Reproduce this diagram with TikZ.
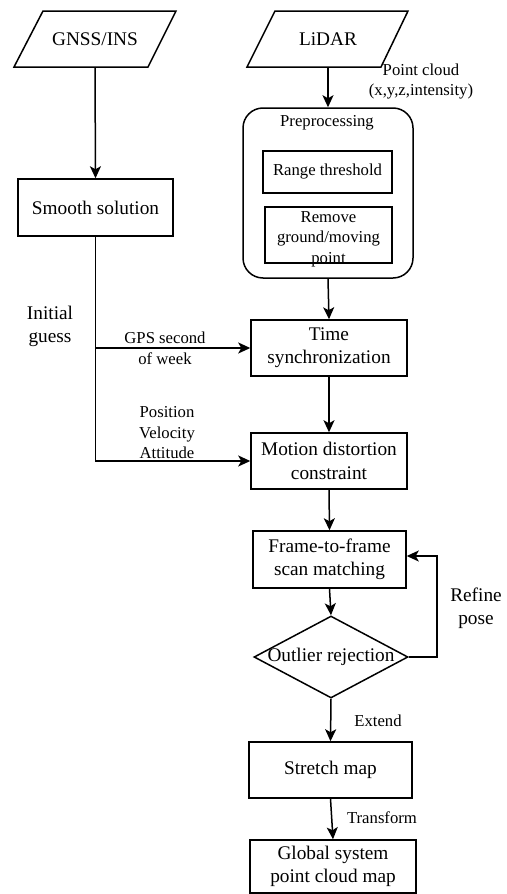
\documentclass[tikz,border=0pt]{standalone}
\usepackage{fontspec}
\setmainfont{Liberation Serif}
\newfontfamily\tnr{Liberation Serif}
\usetikzlibrary{arrows.meta,shapes.geometric}
\tikzset{
  x=1pt,y=-1pt,
  every path/.style={line width=1.5pt},
  big/.style={font=\tnr\fontsize{19.3}{23.3}\selectfont,align=center,inner sep=0pt},
  small/.style={font=\tnr\fontsize{16.7}{20.5}\selectfont,align=center,inner sep=0pt},
  boxnode/.style={draw,big,minimum width=#1,minimum height=56,inner sep=0pt},
  arr/.style={-{Stealth[length=12pt,width=11pt,inset=3pt]}},
}
\begin{document}
\begin{tikzpicture}
\useasboundingbox (0,0) rectangle (506,894);
% input parallelograms
\draw (43,11) -- (176,11) -- (148,67) -- (14,67) -- cycle;
\node[big,minimum height=56] (gnss) at (95,39) {GNSS/INS};
\draw (275,11) -- (408,11) -- (381,67) -- (247,67) -- cycle;
\node[big,minimum height=56] (lidar) at (328,39) {LiDAR};
% left column
\node[boxnode=155,minimum height=57] (smooth) at (95.5,207.5) {Smooth solution};
% preprocessing group
\node[draw,rounded corners=20pt,minimum width=170,minimum height=170,inner sep=0pt] (prep) at (328,193) {};
\node[small] (preptitle) at (327,123) {Preprocessing};
\node[draw,small,minimum width=129,minimum height=42] (range) at (327.5,172) {Range threshold};
\node[draw,minimum width=127,minimum height=56,inner sep=0pt] (removebox) at (328.5,235) {};
\node[small] (remove) at (328.5,239) {Remove\\ground/moving\\point};
% main column
\node[boxnode=156] (time) at (329,348) {Time\\synchronization};
\node[boxnode=156] (motion) at (329,461) {Motion distortion\\constraint};
\node[boxnode=153,minimum height=57] (frame) at (329.5,559.5) {Frame-to-frame\\scan matching};
\node[draw,diamond,big,minimum width=154,minimum height=82,inner sep=0pt,aspect=1.9] (outlier) at (331,657) {};
\node[big] (outliertext) at (331,657) {Outlier rejection};
\node[boxnode=163] (stretch) at (330.5,770) {Stretch map};
\node[boxnode=166,minimum height=53] (global) at (333,866.5) {Global system\\point cloud map};
% connectors
\draw[arr] (gnss.south) -- (smooth.north);
\draw[arr] (lidar.south) -- (prep.north -| lidar.south);
\draw[arr] (prep.south) -- (time.north);
\draw[arr] (smooth.south) |- (motion.west);
\draw[arr] (smooth.south |- time.west) -- (time.west);
\draw[arr] (time.south) -- (motion.north);
\draw[arr] (motion.south) -- (frame.north);
\draw[arr] (frame.south) -- (outlier.north);
\coordinate (loop) at (437,657);
\draw[arr] (outlier.east) -- (loop) |- ([yshift=3.5pt]frame.east);
\draw[arr] (outlier.south) -- (stretch.north);
\draw[arr] (stretch.south) -- (global.north);
% labels
\node[small] (pc) at (421,81.5) {Point cloud\\(x,y,z,intensity)};
\node[big] (init) at (50,326.5) {Initial\\guess};
\node[small] (gps) at (165,348.5) {GPS second\\of week};
\node[small] (pva) at (167,433) {Position\\Velocity\\Attitude};
\node[big] (refine) at (476,608) {Refine\\pose};
\node[small] (extend) at (378,721) {Extend};
\node[small] (transform) at (382,818) {Transform};
\end{tikzpicture}
\end{document}
